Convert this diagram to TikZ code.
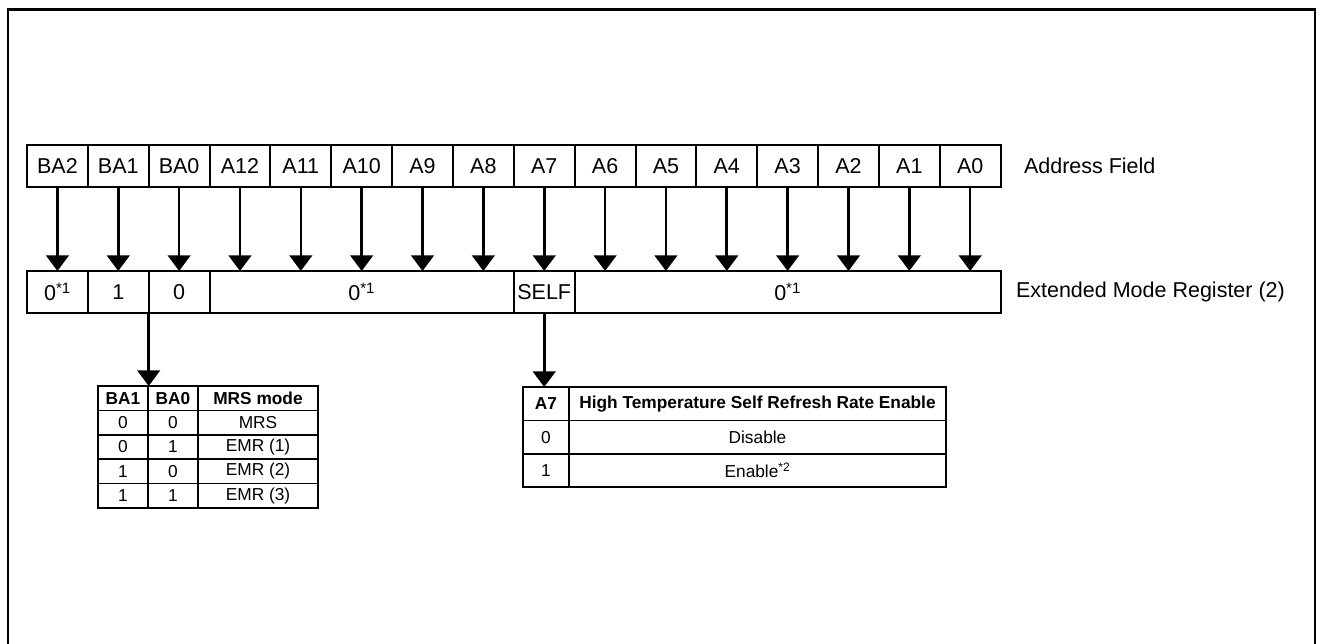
\documentclass[tikz,border=0pt]{standalone}
\usepackage{fontspec}
\setmainfont{Liberation Sans}
\usetikzlibrary{arrows.meta}
\begin{document}
\begin{tikzpicture}[x=1pt,y=-1pt,
  cell/.style={draw, line width=2pt, minimum height=41.7pt, inner sep=0pt, outer sep=0pt,
    anchor=north west, font=\fontsize{21.5}{24}\selectfont},
  tcell/.style={draw, line width=1.5pt, inner sep=0pt, outer sep=0pt, anchor=north west,
    font=\fontsize{17.3}{20}\selectfont},
  thead/.style={tcell, font=\fontsize{17.3}{20}\selectfont\bfseries},
  arr/.style={line width=2.6pt, -{Triangle[length=15.7pt,width=22.7pt]}},
  lbl/.style={inner sep=0pt, outer sep=0pt, anchor=west, font=\fontsize{21.5}{24}\selectfont},
  frame/.style={line width=2.7pt}]
\useasboundingbox (0,0) rectangle (1320,644);
\def\cw{60.85}
\def\xo{27}
% outer frame (open at the bottom)
\draw[frame] (8,660) -- (8,9.5) -- (1315,9.5) -- (1315,660);
% address field
\foreach \t [count=\i from 0] in {BA2,BA1,BA0,A12,A11,A10,A9,A8,A7,A6,A5,A4,A3,A2,A1,A0} {
  \node[cell, minimum width=\cw pt] (a\i) at ({\xo+\i*\cw},145) {\t};
}
% register
\node[cell, minimum width=\cw pt] (rba2) at ({\xo},271) {0\textsuperscript{*1}};
\node[cell, minimum width=\cw pt] (rba1) at ({\xo+\cw},271) {1};
\node[cell, minimum width=\cw pt] (rba0) at ({\xo+2*\cw},271) {0};
\node[cell, minimum width={5*\cw pt}] (rhi) at ({\xo+3*\cw},271) {0\textsuperscript{*1}};
\node[cell, minimum width=\cw pt] (rself) at ({\xo+8*\cw},271) {SELF};
\node[cell, minimum width={7*\cw pt}] (rlo) at ({\xo+9*\cw},271) {0\textsuperscript{*1}};
% arrows address -> register
\foreach \i in {0,...,15} {
  \draw[arr] (a\i.south) -- (a\i.south |- rba2.north);
}
% labels
\node[lbl] (lab1) at (1024,166) {Address Field};
\node[lbl] (lab2) at (1016,292) {Extended Mode Register (2)};
% table 1
\def\rh{24.4}
\node[thead, minimum width=50pt, minimum height=\rh pt] (t1h1) at (98,386) {BA1};
\node[thead, minimum width=50pt, minimum height=\rh pt] (t1h2) at (148,386) {BA0};
\node[thead, minimum width=120pt, minimum height=\rh pt] (t1h3) at (198,386) {MRS mode};
\foreach \a/\b/\c [count=\r] in {0/0/MRS,0/1/EMR (1),1/0/EMR (2),1/1/EMR (3)} {
  \node[tcell, minimum width=50pt, minimum height=\rh pt] (t1r\r a) at (98,{386+\r*\rh}) {\a};
  \node[tcell, minimum width=50pt, minimum height=\rh pt] (t1r\r b) at (148,{386+\r*\rh}) {\b};
  \node[tcell, minimum width=120pt, minimum height=\rh pt] (t1r\r c) at (198,{386+\r*\rh}) {\c};
}
\draw[arr] (rba1.south east) -- (rba1.south east |- t1h1.north);
% table 2
\def\rr{33.4}
\node[thead, minimum width=46pt, minimum height=\rr pt] (t2h1) at (523,387) {A7};
\node[thead, minimum width=377pt, minimum height=\rr pt] (t2h2) at (569,387) {High Temperature Self Refresh Rate Enable};
\node[tcell, minimum width=46pt, minimum height=\rr pt] (t2r1a) at (523,{387+\rr}) {0};
\node[tcell, minimum width=377pt, minimum height=\rr pt] (t2r1b) at (569,{387+\rr}) {Disable};
\node[tcell, minimum width=46pt, minimum height=\rr pt] (t2r2a) at (523,{387+2*\rr}) {1};
\node[tcell, minimum width=377pt, minimum height=\rr pt] (t2r2b) at (569,{387+2*\rr}) {Enable\textsuperscript{*2}};
\draw[arr] (rself.south) -- (rself.south |- t2h1.north);
\end{tikzpicture}
\end{document}
